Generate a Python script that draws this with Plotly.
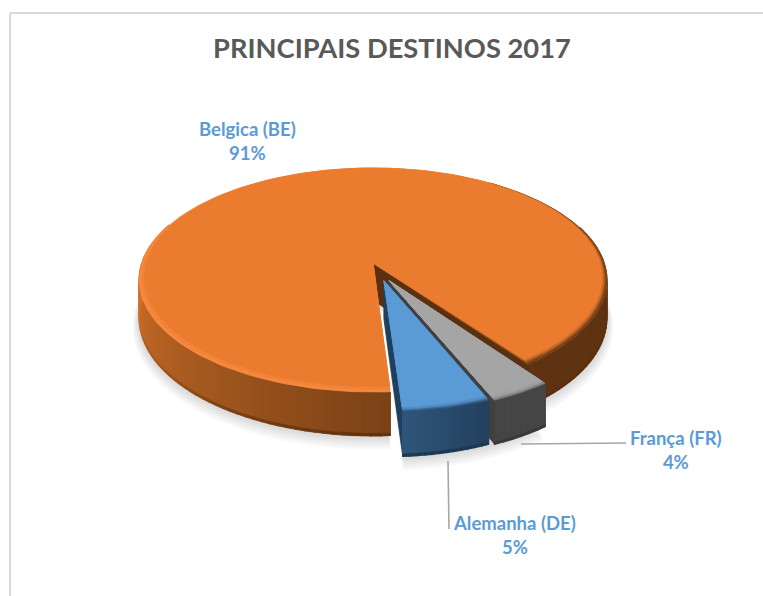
import math
import plotly.graph_objects as go

TITLE = "PRINCIPAIS DESTINOS 2017"
CATEGORIES = ["França (FR)", "Alemanha (DE)", "Belgica (BE)"]
VALUES = [3.7, 5.3, 91.0]
SHOWN_PERCENT = [4, 5, 91]
FIRST_SLICE_ANGLE = 144

W, H = 763, 596
X0, Y0, A, B, K, DEPTH = 373.0, 263.0, 231.0, 109.4, 0.152, 37.0


def proj(u, v, h=0.0):
    w = 1 - K * v
    return X0 + A * u / w, Y0 + (B * v + h) / w


def hex2rgb(c):
    return tuple(int(c[i:i + 2], 16) for i in (1, 3, 5))


def mix(c1, c2, f):
    a, b = hex2rgb(c1), hex2rgb(c2)
    return "#%02x%02x%02x" % tuple(round(a[i] + (b[i] - a[i]) * f) for i in range(3))


def rim(theta, r, off, bevel=0.0):
    t = math.radians(theta)
    return off[0] + r * math.sin(t), off[1] - r * math.cos(t) - bevel


def arc(t0, t1, n):
    n = max(n, 2)
    return [t0 + (t1 - t0) * i / n for i in range(n + 1)]


fig = go.Figure()


def poly(pts, color, width=0.8):
    xs = [p[0] for p in pts] + [pts[0][0]]
    ys = [p[1] for p in pts] + [pts[0][1]]
    fig.add_trace(go.Scatter(
        x=xs, y=ys, mode="lines", fill="toself", fillcolor=color,
        line=dict(color=color, width=width),
        hoverinfo="skip", showlegend=False))


def sector(t0, t1, r, off, color, h=0.0, bevel=False, width=0.8):
    pts = [proj(off[0], off[1], h)]
    for th in arc(t0, t1, int(abs(t1 - t0) / 1.5)):
        u, v = rim(th, r, off, (1 - r) if bevel else 0.0)
        pts.append(proj(u, v, h))
    poly(pts, color, width)


def wall(t0, t1, r, off, color_fn, band_fn, step=3.0):
    ths = arc(t0, t1, int(abs(t1 - t0) / step))
    for a0, a1 in zip(ths[:-1], ths[1:]):
        mid = (a0 + a1) / 2
        if -math.cos(math.radians(mid)) < -0.35:
            continue
        u0, v0 = rim(a0, r, off)
        u1, v1 = rim(a1, r, off)
        poly([proj(u0, v0), proj(u1, v1), proj(u1, v1, DEPTH), proj(u0, v0, DEPTH)],
             color_fn(mid), 1.6)
    for a0, a1 in zip(ths[:-1], ths[1:]):
        mid = (a0 + a1) / 2
        if -math.cos(math.radians(mid)) < -0.35:
            continue
        u0, v0 = rim(a0, r, off)
        u1, v1 = rim(a1, r, off)
        poly([proj(u0, v0, DEPTH * 0.95), proj(u1, v1, DEPTH * 0.95),
              proj(u1, v1, DEPTH), proj(u0, v0, DEPTH)], band_fn(mid), 0.8)


def radial_wall(theta, r, off, color):
    u, v = rim(theta, r, off)
    poly([proj(off[0], off[1]), proj(u, v), proj(u, v, DEPTH), proj(off[0], off[1], DEPTH)], color)


total = sum(VALUES)
angles = []
cur = FIRST_SLICE_ANGLE
for val in VALUES:
    angles.append((cur, cur + val / total * 360))
    cur += val / total * 360
(g0, g1), (b0, b1), (o0, o1) = angles
o1_front = o1 - 360

OFF_O = (0.0, 0.0)
OFF_B = (0.046, 0.158)
OFF_G = (0.068, 0.158)
R_X = 0.97

# soft shadows
for i in range(8, 0, -1):
    s = 1 + i * 0.0035
    col = "rgba(120,120,120,0.035)"
    sector(o0, o1, s, OFF_O, col, h=DEPTH + i * 1.0, width=0)
    sector(g0, b1, R_X * s, OFF_B, col, h=DEPTH + i * 1.0, width=0)


def orange_wall_color(th):
    d = th % 360
    if d <= o1_front + 5:
        return "#5f3312"
    if d <= 177:
        return "#7c4216"
    if d <= 290:
        return mix("#7c4216", "#d07129", (d - 177) / 93)
    return "#d07129"


def orange_band_color(th):
    d = th % 360
    if d <= 177:
        return "#5a2f10"
    return mix(orange_wall_color(th), "#5f3311", max(0.0, 1 - (d - 177) / 80))


# orange body
wall(o0, 360, 1.0, OFF_O, orange_wall_color, orange_band_color, step=2.0)
wall(0, o1_front, 1.0, OFF_O, orange_wall_color, orange_band_color, step=2.0)
radial_wall(o1, 1.0, OFF_O, "#5b3010")

# top surface: light bevel on the left and front, dark fade on the right
LIGHT_TOP = 35
sector(o0, o1, 1.0, OFF_O, "#f68a3e")
sector(o0, o1, 0.992, OFF_O, "#f2843a", bevel=True)
for r, c in [(1.0, "#6b3a14"), (0.9955, "#8f4e1c"), (0.991, "#b86425"), (0.9865, "#d9732b")]:
    sector(LIGHT_TOP, o1_front, r, OFF_O, c, bevel=True)
sector(o0, o1, 0.982, OFF_O, "#eb7c2f", bevel=True)

# gray slice
radial_wall(g0, R_X, OFF_G, "#404040")
wall(g0, g1, R_X, OFF_G, lambda th: "#454545", lambda th: "#3a3a3a", step=2)
radial_wall(g1, R_X, OFF_G, "#404040")
for r, c in [(R_X, "#7a7a7a"), (R_X - 0.008, "#8e8e8e"), (R_X - 0.016, "#a0a0a0"), (R_X - 0.03, "#a5a5a5")]:
    sector(g0, g1, r, OFF_G, c)

# blue slice
radial_wall(b1, R_X, OFF_B, "#1f3f5e")
wall(b0, b1, R_X, OFF_B,
     lambda th: mix("#22405e", "#2f5679", (th - b0) / (b1 - b0)), lambda th: "#1d3852", step=1.5)
for r, c in [(R_X, "#2f5679"), (R_X - 0.008, "#3e6f9c"), (R_X - 0.016, "#4f8cc4"), (R_X - 0.03, "#5b9bd5")]:
    sector(b0, b1, r, OFF_B, c)

# leader lines
LEADER = "#a6a6a6"
fig.add_trace(go.Scatter(x=[521, 626], y=[444, 443], mode="lines",
                         line=dict(color=LEADER, width=1.6), hoverinfo="skip", showlegend=False))
fig.add_trace(go.Scatter(x=[448, 449], y=[461, 529], mode="lines",
                         line=dict(color=LEADER, width=1.6), hoverinfo="skip", showlegend=False))

# labels
LABEL_POS = [(676, 449.5), (514, 534.5), (247, 140.5)]
for name, pct, (lx, ly) in zip(CATEGORIES, SHOWN_PERCENT, LABEL_POS):
    fig.add_annotation(x=lx, y=ly, xref="x", yref="y", showarrow=False, align="center",
                       text=f"<b>{name}<br>{pct}%</b>",
                       font=dict(family="Lato", size=18.5, color="#5b9bd5"))

fig.add_annotation(x=391.5, y=47, xref="x", yref="y", showarrow=False,
                   text=f"<b>{TITLE}</b>", font=dict(family="Lato", size=27.3, color="#595959"))

# frame
fig.add_shape(type="line", xref="x", yref="y", x0=10, y0=13, x1=10, y1=596,
              line=dict(color="#d9d9d9", width=2))
fig.add_shape(type="line", xref="x", yref="y", x0=10, y0=13, x1=763, y1=13,
              line=dict(color="#d9d9d9", width=2))

fig.update_layout(
    width=W, height=H, autosize=False,
    margin=dict(l=0, r=0, t=0, b=0),
    paper_bgcolor="white", plot_bgcolor="white", showlegend=False,
    xaxis=dict(range=[0, W], visible=False, fixedrange=True),
    yaxis=dict(range=[H, 0], visible=False, fixedrange=True),
)
fig.write_html("out.html", config={"displayModeBar": False, "responsive": False},
               post_script="document.body.style.margin='0';document.documentElement.style.overflow='hidden';")
